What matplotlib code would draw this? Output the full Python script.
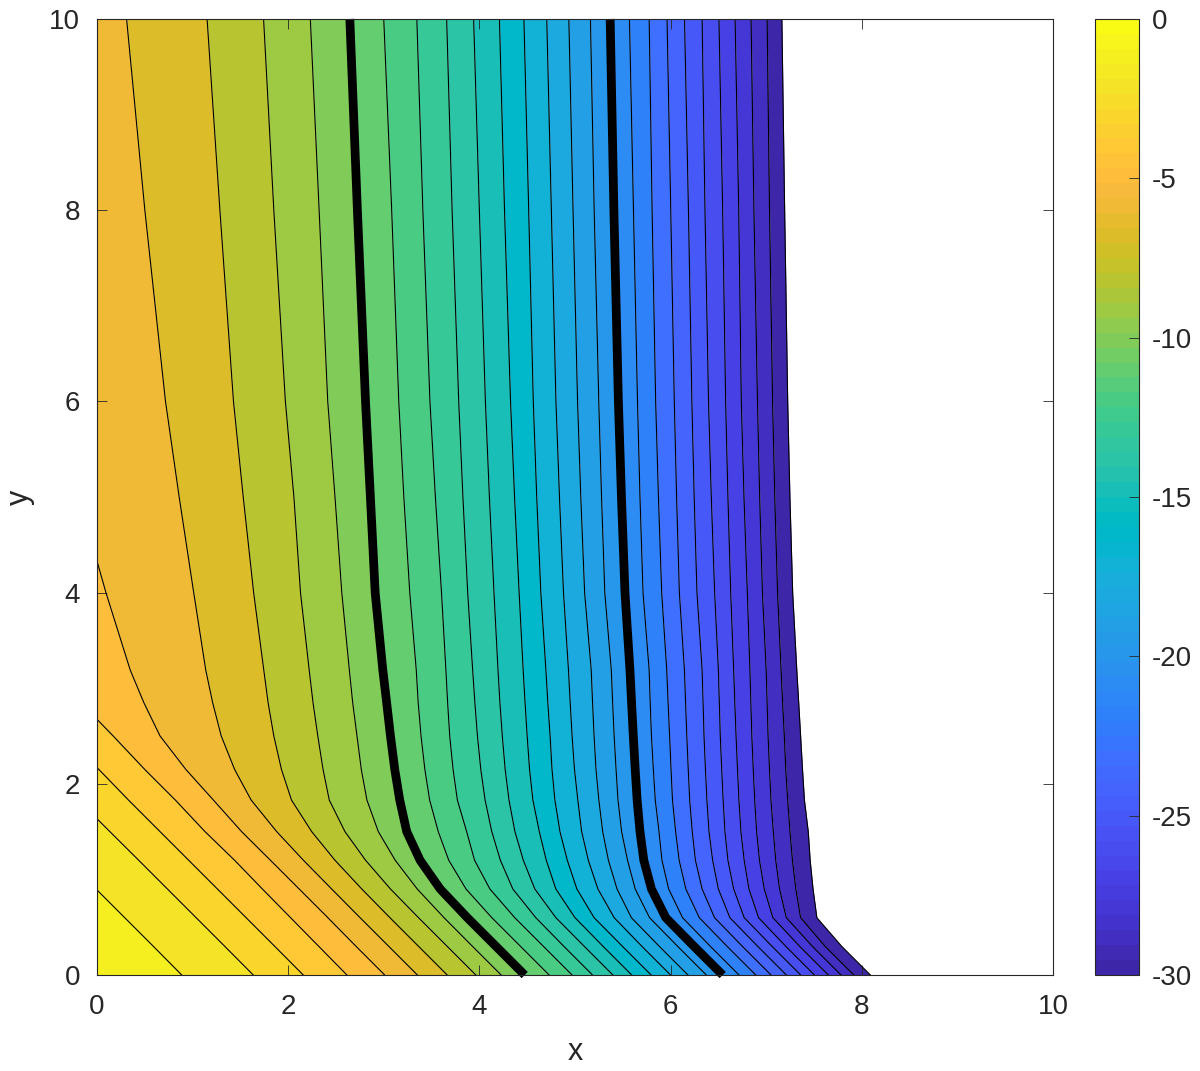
import matplotlib
matplotlib.use("Agg")
import matplotlib.pyplot as plt
import numpy as np
from matplotlib.colors import ListedColormap, Normalize
from matplotlib.cm import ScalarMappable

# contour levels, 0 down to -30 in steps of 1; -10 and -20 are drawn heavy
levels = list(range(-1, -31, -1))
heavy_levels = [-10, -20]
cbar_ticks = [0, -5, -10, -15, -20, -25, -30]

# heights of the horizontal scan lines used to read the contours
y_rows = [0, 0.3, 0.6, 0.9, 1.2, 1.5, 1.83, 2.15, 2.5, 2.85, 3.19, 4, 5, 6, 8, 10]

# x where each level (-1 ... -30) crosses a scan line (negative = left of the frame)
x_y0 = [0.887, 1.635, 2.158, 2.615, 3.010, 3.352, 3.664, 3.963, 4.228, 4.474,
        4.730, 4.970, 5.184, 5.397, 5.594, 5.797, 6.000, 6.182, 6.374, 6.545,
        6.716, 6.891, 7.051, 7.211, 7.361, 7.505, 7.650, 7.783, 7.916, 8.090]
x_y03 = [0.59, 1.337, 1.86, 2.32, 2.71, 3.052, 3.364, 3.663, 3.928, 4.174,
         4.43, 4.67, 4.884, 5.097, 5.294, 5.497, 5.70, 5.882, 6.074, 6.245,
         6.416, 6.591, 6.751, 6.911, 7.061, 7.205, 7.35, 7.483, 7.616, 7.79]
x_y06 = [0.29, 1.037, 1.56, 2.025, 2.415, 2.752, 3.064, 3.363, 3.63, 3.874,
         4.13, 4.37, 4.59, 4.80, 5.0, 5.20, 5.41, 5.59, 5.78, 5.95,
         6.125, 6.30, 6.46, 6.62, 6.77, 6.92, 7.07, 7.21, 7.36, 7.53]
x_y09 = [-0.01, 0.737, 1.26, 1.73, 2.115, 2.455, 2.77, 3.07, 3.35, 3.59,
         3.86, 4.11, 4.35, 4.58, 4.80, 5.02, 5.24, 5.44, 5.63, 5.80,
         5.98, 6.16, 6.33, 6.50, 6.66, 6.82, 6.98, 7.14, 7.31, 7.49]
x_y12 = [-0.31, 0.437, 0.96, 1.44, 1.815, 2.16, 2.49, 2.81, 3.12, 3.38,
         3.68, 3.95, 4.22, 4.46, 4.70, 4.92, 5.14, 5.35, 5.55, 5.72,
         5.91, 6.09, 6.26, 6.44, 6.60, 6.77, 6.93, 7.10, 7.275, 7.46]
x_y15 = [-0.61, 0.135, 0.66, 1.13, 1.513, 1.88, 2.246, 2.594, 2.943, 3.24,
         3.57, 3.867, 4.13, 4.372, 4.627, 4.843, 5.07, 5.29, 5.488, 5.68,
         5.879, 6.053, 6.227, 6.402, 6.569, 6.736, 6.90, 7.075, 7.249, 7.44]
x_y18 = [-0.94, -0.195, 0.33, 0.82, 1.218, 1.613, 2.035, 2.43, 2.824, 3.167,
         3.48, 3.77, 4.06, 4.31, 4.56, 4.79, 5.03, 5.25, 5.45, 5.65,
         5.84, 6.02, 6.20, 6.38, 6.55, 6.715, 6.88, 7.05, 7.225, 7.40]
x_y22 = [-1.26, -0.515, 0.02, 0.50, 0.93, 1.44, 1.93, 2.365, 2.765, 3.115,
         3.43, 3.725, 4.015, 4.27, 4.525, 4.76, 4.995, 5.22, 5.43, 5.63,
         5.82, 6.005, 6.185, 6.365, 6.535, 6.70, 6.865, 7.035, 7.205, 7.38]
x_y25 = [-1.61, -0.865, -0.34, 0.17, 0.66, 1.30, 1.85, 2.31, 2.72, 3.07,
         3.39, 3.69, 3.98, 4.24, 4.50, 4.74, 4.97, 5.20, 5.41, 5.61,
         5.80, 5.99, 6.17, 6.35, 6.52, 6.685, 6.85, 7.02, 7.19, 7.36]
x_y28 = [-1.96, -1.215, -0.69, -0.17, 0.49, 1.21, 1.79, 2.26, 2.675, 3.03,
         3.36, 3.668, 3.953, 4.215, 4.478, 4.716, 4.95, 5.184, 5.394, 5.592,
         5.787, 5.974, 6.157, 6.34, 6.51, 6.672, 6.84, 7.01, 7.172, 7.34]
x_y32 = [-2.30, -1.555, -1.03, -0.51, 0.348, 1.138, 1.745, 2.22, 2.64, 2.99,
         3.34, 3.65, 3.93, 4.195, 4.458, 4.696, 4.932, 5.17, 5.38, 5.575,
         5.776, 5.96, 6.145, 6.33, 6.50, 6.66, 6.83, 7.0, 7.156, 7.32]
x_y4 = [-3.11, -2.365, -1.84, -1.32, 0.094, 1.012, 1.639, 2.129, 2.561, 2.91,
        3.272, 3.604, 3.878, 4.153, 4.416, 4.643, 4.88, 5.101, 5.312, 5.523,
        5.712, 5.907, 6.092, 6.276, 6.461, 6.629, 6.803, 6.961, 7.119, 7.277]
x_y5 = [-4.11, -3.365, -2.84, -2.32, -0.19, 0.86, 1.53, 2.06, 2.49, 2.86,
        3.21, 3.54, 3.828, 4.105, 4.368, 4.60, 4.838, 5.061, 5.278, 5.486,
        5.68, 5.873, 6.063, 6.247, 6.426, 6.60, 6.768, 6.932, 7.09, 7.248]
x_y6 = [-5.11, -4.365, -3.84, -3.32, -0.47, 0.717, 1.428, 1.971, 2.414, 2.809,
        3.157, 3.483, 3.784, 4.063, 4.326, 4.564, 4.801, 5.027, 5.249, 5.454,
        5.654, 5.844, 6.039, 6.223, 6.397, 6.576, 6.74, 6.909, 7.067, 7.225]
x_y8 = [-7.11, -6.365, -5.84, -5.32, -1.0, 0.501, 1.286, 1.85, 2.324, 2.724,
        3.083, 3.409, 3.715, 4.0, 4.263, 4.516, 4.753, 4.98, 5.201, 5.407,
        5.612, 5.807, 6.002, 6.187, 6.36, 6.545, 6.713, 6.872, 7.035, 7.193]
x_y10 = [-9.11, -8.365, -7.84, -7.32, -1.5, 0.31, 1.152, 1.743, 2.232, 2.645,
         3.0, 3.346, 3.658, 3.94, 4.21, 4.466, 4.705, 4.936, 5.162, 5.368,
         5.57, 5.776, 5.963, 6.146, 6.33, 6.506, 6.675, 6.842, 7.01, 7.164]

# MATLAB parula, 64 entries
parula = [
    [0.2422, 0.1504, 0.6603], [0.2504, 0.1650, 0.7076], [0.2578, 0.1818, 0.7511],
    [0.2647, 0.1978, 0.7952], [0.2706, 0.2147, 0.8364], [0.2751, 0.2342, 0.8710],
    [0.2783, 0.2559, 0.8991], [0.2803, 0.2782, 0.9221], [0.2813, 0.3006, 0.9414],
    [0.2810, 0.3228, 0.9579], [0.2795, 0.3447, 0.9717], [0.2760, 0.3667, 0.9829],
    [0.2699, 0.3892, 0.9906], [0.2602, 0.4123, 0.9952], [0.2440, 0.4358, 0.9988],
    [0.2206, 0.4603, 0.9973], [0.1963, 0.4847, 0.9892], [0.1834, 0.5074, 0.9798],
    [0.1786, 0.5289, 0.9682], [0.1764, 0.5499, 0.9520], [0.1687, 0.5703, 0.9359],
    [0.1540, 0.5902, 0.9218], [0.1460, 0.6091, 0.9079], [0.1380, 0.6276, 0.8973],
    [0.1248, 0.6459, 0.8883], [0.1113, 0.6635, 0.8763], [0.0952, 0.6798, 0.8598],
    [0.0689, 0.6948, 0.8394], [0.0297, 0.7082, 0.8163], [0.0036, 0.7203, 0.7917],
    [0.0067, 0.7312, 0.7660], [0.0433, 0.7411, 0.7394], [0.0964, 0.7500, 0.7120],
    [0.1408, 0.7584, 0.6842], [0.1717, 0.7670, 0.6554], [0.1938, 0.7758, 0.6251],
    [0.2161, 0.7843, 0.5923], [0.2470, 0.7918, 0.5567], [0.2906, 0.7973, 0.5188],
    [0.3406, 0.8008, 0.4789], [0.3909, 0.8029, 0.4354], [0.4456, 0.8024, 0.3909],
    [0.5044, 0.7993, 0.3480], [0.5616, 0.7942, 0.3045], [0.6174, 0.7876, 0.2612],
    [0.6720, 0.7793, 0.2227], [0.7242, 0.7698, 0.1910], [0.7738, 0.7598, 0.1646],
    [0.8203, 0.7498, 0.1535], [0.8634, 0.7406, 0.1596], [0.9035, 0.7330, 0.1774],
    [0.9393, 0.7288, 0.2100], [0.9728, 0.7298, 0.2394], [0.9956, 0.7434, 0.2371],
    [0.9970, 0.7659, 0.2199], [0.9952, 0.7893, 0.2028], [0.9892, 0.8136, 0.1885],
    [0.9786, 0.8386, 0.1766], [0.9676, 0.8639, 0.1643], [0.9610, 0.8890, 0.1537],
    [0.9597, 0.9135, 0.1423], [0.9628, 0.9373, 0.1265], [0.9691, 0.9606, 0.1064],
    [0.9769, 0.9839, 0.0805]]

plt.rcParams['font.family'] = ['Liberation Sans', 'DejaVu Sans']
plt.rcParams['axes.unicode_minus'] = False
text_col = '#262626'

cmap = ListedColormap(parula)
norm = Normalize(vmin=-30, vmax=0)

X = np.array([x_y0, x_y03, x_y06, x_y09, x_y12, x_y15, x_y18, x_y22, x_y25,
              x_y28, x_y32, x_y4, x_y5, x_y6, x_y8, x_y10])
Y = np.array(y_rows)

fig = plt.figure(figsize=(12, 10.71), dpi=100)
ax = fig.add_axes([0.0808, 0.0896, 0.7967, 0.8927])
cax = fig.add_axes([0.9125, 0.0896, 0.0370, 0.8927])

# filled bands: each band takes the colour of its lower level (like contourf)
left = np.full(len(Y), -20.0)
for j, lev in enumerate(levels):
    ax.fill_betweenx(Y, left, X[:, j], color=cmap(norm(lev)), linewidth=0)
    left = X[:, j]

# contour lines
for j, lev in enumerate(levels):
    if lev in heavy_levels:
        ax.plot(X[:, j], Y, color='black', lw=6.3, solid_capstyle='butt',
                solid_joinstyle='round', zorder=4, clip_on=False)
    else:
        ax.plot(X[:, j], Y, color='black', lw=0.8, zorder=3)

ax.set_xlim(0, 10)
ax.set_ylim(0, 10)
ax.set_xticks(range(0, 11, 2))
ax.set_yticks(range(0, 11, 2))
ax.tick_params(direction='in', length=7, width=0.6, top=True, right=True,
               labelsize=20, colors=text_col)
ax.tick_params(axis='x', pad=14)
ax.tick_params(axis='y', pad=12)
for sp in ax.spines.values():
    sp.set_color(text_col)
    sp.set_linewidth(0.8)
    sp.set_zorder(5)
ax.set_xlabel('x', fontsize=22, color=text_col, labelpad=12)
ax.set_ylabel('y', fontsize=22, color=text_col, labelpad=10)

cb = fig.colorbar(ScalarMappable(norm=norm, cmap=cmap), cax=cax, ticks=cbar_ticks)
cb.ax.tick_params(direction='in', length=7, width=0.6, labelsize=20,
                  colors=text_col, pad=9)
cb.outline.set_edgecolor(text_col)
cb.outline.set_linewidth(0.8)

fig.savefig('out.png', dpi=100)
